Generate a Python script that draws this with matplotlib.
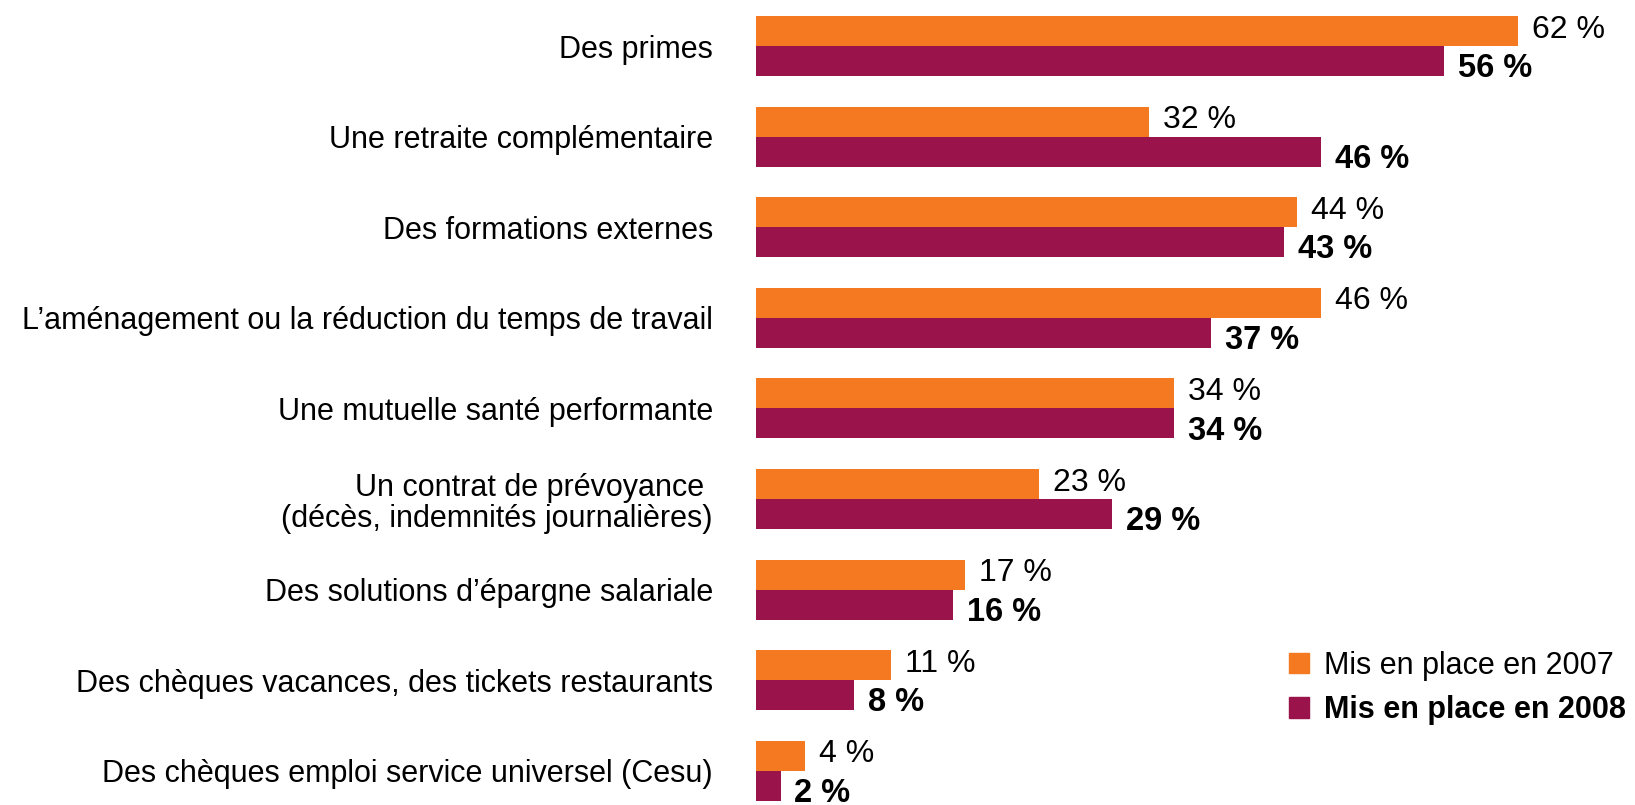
import numpy as np
import matplotlib
matplotlib.use("Agg")
from matplotlib import pyplot as plt
from matplotlib.patches import Patch

# Data
categories = [
    "Des primes",
    "Une retraite complémentaire",
    "Des formations externes",
    "L’aménagement ou la réduction du temps de travail",
    "Une mutuelle santé performante",
    "Un contrat de prévoyance \n(décès, indemnités journalières)",
    "Des solutions d’épargne salariale",
    "Des chèques vacances, des tickets restaurants",
    "Des chèques emploi service universel (Cesu)",
]
values_2007 = [62, 32, 44, 46, 34, 23, 17, 11, 4]
values_2008 = [56, 46, 43, 37, 34, 29, 16, 8, 2]
series_labels = ["Mis en place en 2007", "Mis en place en 2008"]

orange = "#F47920"
purple = "#9A144B"

plt.rcParams['font.family'] = ['Liberation Sans', 'DejaVu Sans']

W, H = 1635, 805
fig = plt.figure(figsize=(W / 100, H / 100), dpi=100)
ax = fig.add_axes([756 / W, 0, 1 - 756 / W, 1])

y = np.arange(len(categories))
h = 0.331

ax.barh(y - h / 2, values_2007, height=h, color=orange)
ax.barh(y + h / 2, values_2008, height=h, color=purple)

for yi, v in zip(y, values_2007):
    ax.annotate(f"{v} %", xy=(v, yi - h / 2), xytext=(10, 1),
                textcoords="offset points", va="center", ha="left", fontsize=23)
for yi, v in zip(y, values_2008):
    ax.annotate(f"{v} %", xy=(v, yi + h / 2), xytext=(10, -5.5),
                textcoords="offset points", va="center", ha="left",
                fontsize=23.5, fontweight="bold")

ax.set_xlim(0, 879 / 12.29)
ax.set_ylim(8.377, -0.508)
ax.set_yticks(y, categories, fontsize=22, linespacing=1.07)
ax.tick_params(axis="y", length=0, pad=31)
ax.set_xticks([])
for s in ax.spines.values():
    s.set_visible(False)

handles = [Patch(color=orange), Patch(color=purple)]
leg = ax.legend(handles, series_labels, loc="upper left",
                bbox_to_anchor=(1289 / W, 1 - 651 / H), bbox_transform=fig.transFigure,
                frameon=False, fontsize=22, handlelength=0.65, handleheight=0.65,
                handletextpad=0.5, labelspacing=0.47, borderpad=0, borderaxespad=0)
leg.get_texts()[1].set_fontweight("bold")

fig.savefig("out.png", dpi=100)
